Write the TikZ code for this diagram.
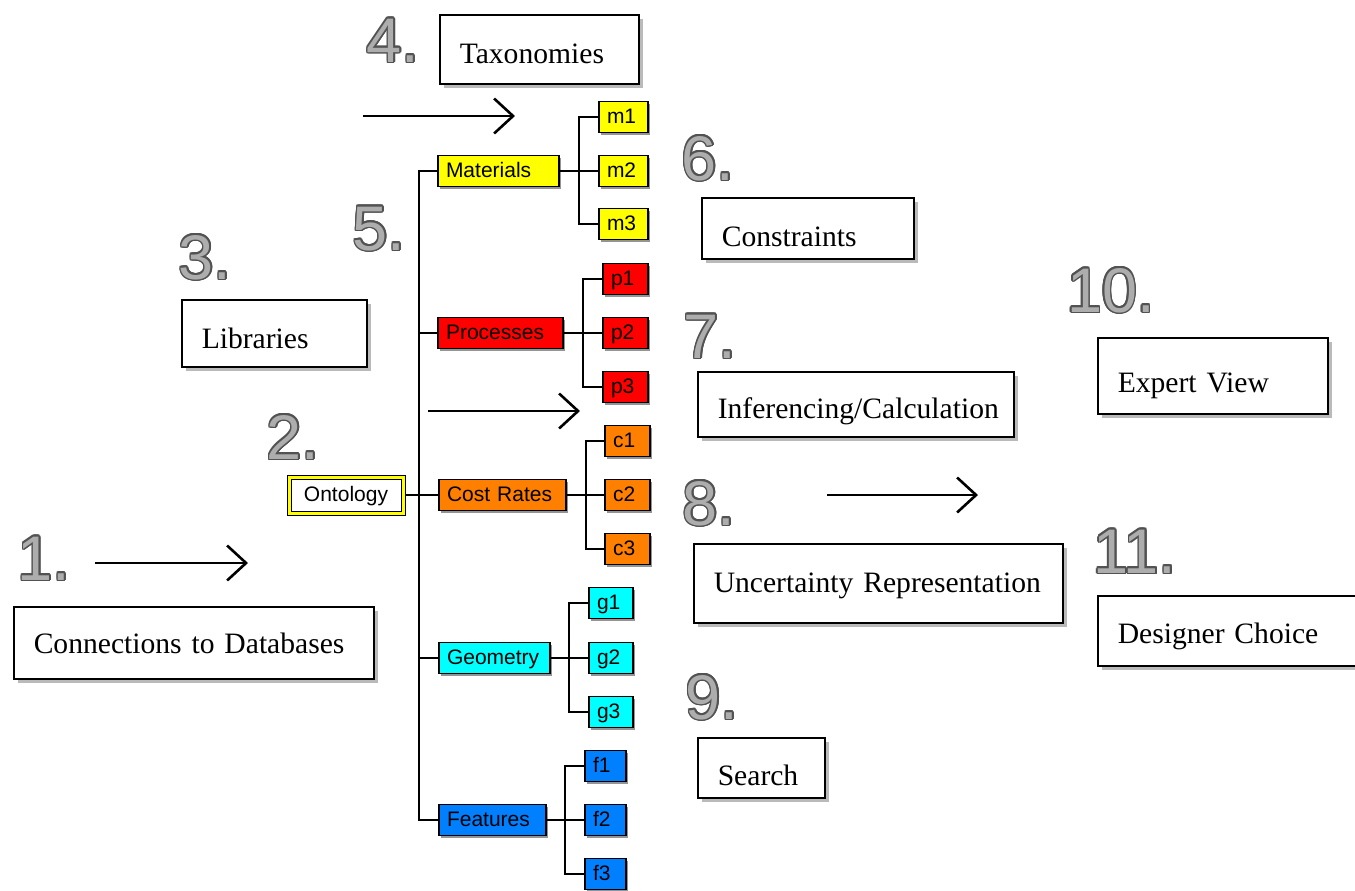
\documentclass[tikz,border=0pt]{standalone}
\usepackage{fontspec}
\setmainfont{Liberation Serif}
\setsansfont{Liberation Sans}
\usepackage{contour}
\contourlength{0.8pt}
\usetikzlibrary{arrows.meta,shadows}
\definecolor{cyel}{HTML}{FFFF00}
\definecolor{cred}{HTML}{FF0000}
\definecolor{corg}{HTML}{FF8000}
\definecolor{ccya}{HTML}{00FFFF}
\definecolor{cblu}{HTML}{0080FF}
\newcommand\bignum[1]{\contour[16]{black!68}{\textcolor{black!32}{#1}}}
\begin{document}
\begin{tikzpicture}[x=0.5pt,y=-0.5pt,
  bigbox/.style={draw, line width=0.75pt, fill=white, anchor=north west, inner xsep=10pt, inner ysep=0pt, align=left,
    font=\fontsize{14.8pt}{17pt}\selectfont,
    drop shadow={shadow xshift=2pt,shadow yshift=-2pt,fill=black!45,opacity=0.6}},
  num/.style={anchor=base, inner sep=0pt, font=\sffamily\fontsize{31.5pt}{32pt}\selectfont},
  tn/.style={draw, line width=0.7pt, inner xsep=4pt, inner ysep=0pt, minimum height=15.5pt, text height=7.6pt, text depth=1.6pt,
    align=left, font=\sffamily\fontsize{10.5pt}{12pt}\selectfont,
    drop shadow={shadow xshift=1.2pt,shadow yshift=-1.2pt,fill=black!60,opacity=0.7}},
  link/.style={line width=0.8pt},
  arr/.style={line width=1.3pt, -{Straight Barb[length=9.5pt,width=17.5pt]}}
]
\useasboundingbox (0,0) rectangle (1355,890);

% big numbers
\node[num] (n1) at (44,580) {\bignum{1.}};
\node[num] (n2) at (293,459) {\bignum{2.}};
\node[num] (n3) at (205,279) {\bignum{3.}};
\node[num] (n4) at (393,62) {\bignum{4.}};
\node[num] (n5) at (379,250) {\bignum{5.}};
\node[num] (n6) at (708,180) {\bignum{6.}};
\node[num] (n7) at (710,358) {\bignum{7.}};
\node[num] (n8) at (709,525) {\bignum{8.}};
\node[num] (n9) at (712,719) {\bignum{9.}};
\node[num] (n10) at (1111,312) {\bignum{10.}};
\node[num] (n11) at (1135,573) {\bignum{11.}};

% boxes
\node[bigbox, text width=160pt, text height=23.5pt, text depth=12.5pt] (b1) at (13,606) {Connections to Databases};
\node[bigbox, text width=72.5pt, text height=24.5pt, text depth=9pt] (b3) at (181,299) {Libraries};
\node[bigbox, text width=79.5pt, text height=24.5pt, text depth=10pt] (b4) at (439,14) {Taxonomies};
\node[bigbox, text width=86pt, text height=24.5pt, text depth=6pt] (b6) at (701,197) {Constraints};
\node[bigbox, text width=138pt, text height=23.5pt, text depth=9pt] (b7) at (697,371) {Inferencing/Calculation};
\node[bigbox, text width=164.5pt, text height=24.5pt, text depth=15pt] (b8) at (693,543) {Uncertainty Representation};
\node[bigbox, text width=43.5pt, text height=24pt, text depth=6pt] (b9) at (697,737) {Search};
\node[bigbox, text width=95pt, text height=27.5pt, text depth=10.5pt] (b10) at (1097,337) {Expert View};
\node[bigbox, text width=142pt, text height=24pt, text depth=11pt] (b11) at (1097,595) {Designer Choice};

% arrows
\coordinate (a1s) at (95,563); \coordinate (a1e) at (248,563);
\coordinate (a4s) at (363,116); \coordinate (a4e) at (515,116);
\coordinate (a7s) at (428,411); \coordinate (a7e) at (580,411);
\coordinate (a8s) at (827,495); \coordinate (a8e) at (978,495);
\draw[arr] (a1s) -- (a1e);
\draw[arr] (a4s) -- (a4e);
\draw[arr] (a7s) -- (a7e);
\draw[arr] (a8s) -- (a8e);

% tree branch coordinates
\coordinate (tr) at (419,0);
\coordinate (mb) at (579,0);
\coordinate (pb) at (583,0);
\coordinate (cb) at (586,0);
\coordinate (gb) at (569,0);
\coordinate (fb) at (565,0);

% trunk connectors (drawn first, below nodes)
\coordinate (ontE) at (404,495);
\coordinate (matW) at (438,171);
\coordinate (feaW) at (439,820);
\draw[link] (ontE) -- (439,495);
\draw[link] (matW) -- (matW -| tr) -- (feaW -| tr) -- (feaW);
\draw[link] (tr |- 0,333) -- (438,333);
\draw[link] (tr |- 0,658) -- (439,658);

% category nodes
\node[tn, fill=cyel, text width=52.5pt] (mat) at (498.5,171) {Materials};
\node[tn, fill=cred, text width=54.5pt] (pro) at (500.5,333) {Processes};
\node[tn, fill=corg, text width=55.5pt] (cos) at (502.5,495) {Cost Rates};
\node[tn, fill=ccya, text width=47.5pt] (geo) at (494.5,658) {Geometry};
\node[tn, fill=cblu, text width=45.5pt] (fea) at (492.5,820) {Features};

\node[draw=black, double=cyel, double distance=1.5pt, line width=0.5pt, fill=white, inner sep=0pt,
  minimum width=57pt, minimum height=18pt, text height=7.6pt, text depth=1.6pt,
  font=\sffamily\fontsize{10.5pt}{12pt}\selectfont] (ont) at (346,495) {Ontology};

% children
\foreach \n/\y in {m1/117,m2/171,m3/224}{\node[tn, fill=cyel, text width=16.5pt] (\n) at (623.5,\y) {\n};}
\foreach \n/\y in {p1/279,p2/333,p3/387}{\node[tn, fill=cred, text width=14.5pt] (\n) at (625.5,\y) {\n};}
\foreach \n/\y in {c1/441,c2/495,c3/549}{\node[tn, fill=corg, text width=14.5pt] (\n) at (627.5,\y) {\n};}
\foreach \n/\y in {g1/603,g2/658,g3/712}{\node[tn, fill=ccya, text width=14pt] (\n) at (611,\y) {\n};}
\foreach \n/\y in {f1/766,f2/820,f3/874}{\node[tn, fill=cblu, text width=12.5pt] (\n) at (605.5,\y) {\n};}

% child connectors
\draw[link] (mat.east) -- (m2.west);
\draw[link] (m1.west) -- (m1.west -| mb) -- (m3.west -| mb) -- (m3.west);
\draw[link] (pro.east) -- (p2.west);
\draw[link] (p1.west) -- (p1.west -| pb) -- (p3.west -| pb) -- (p3.west);
\draw[link] (cos.east) -- (c2.west);
\draw[link] (c1.west) -- (c1.west -| cb) -- (c3.west -| cb) -- (c3.west);
\draw[link] (geo.east) -- (g2.west);
\draw[link] (g1.west) -- (g1.west -| gb) -- (g3.west -| gb) -- (g3.west);
\draw[link] (fea.east) -- (f2.west);
\draw[link] (f1.west) -- (f1.west -| fb) -- (f3.west -| fb) -- (f3.west);
\end{tikzpicture}
\end{document}
